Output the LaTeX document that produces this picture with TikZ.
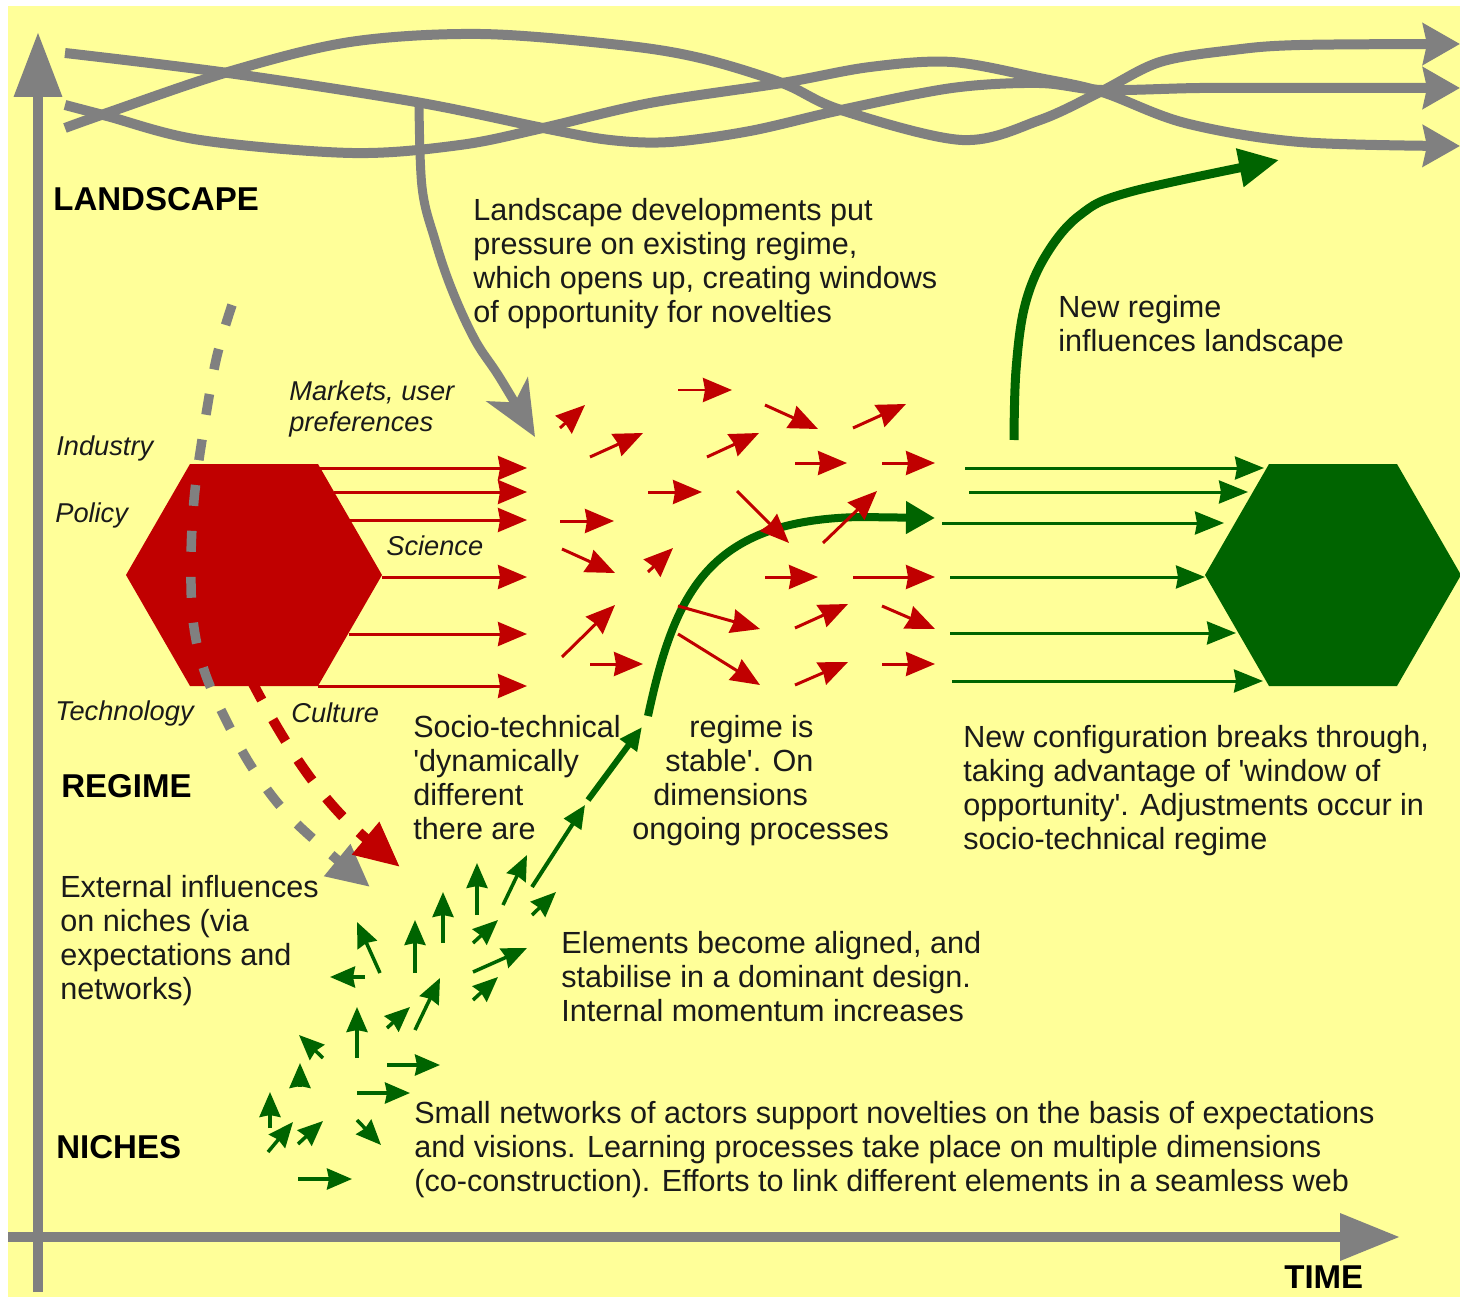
\documentclass[tikz,border=0pt]{standalone}
\usepackage{fontspec}
\setmainfont{Liberation Sans}
\usetikzlibrary{arrows.meta}

\definecolor{bgyellow}{HTML}{FFFF99}
\definecolor{lgray}{HTML}{808080}
\definecolor{regred}{HTML}{C00000}
\definecolor{reggreen}{HTML}{006400}
\definecolor{txt}{HTML}{1A1A1A}

\newcommand{\sq}{\textquotesingle}

\tikzset{
  axisline/.style={draw=lgray, line width=0.2cm},
  strand/.style={draw=lgray, line width=0.2cm, -{Stealth[length=0.74cm,width=0.82cm,inset=0.08cm]}},
  pressarr/.style={draw=lgray, line width=0.18cm, -{Stealth[length=1.1cm,width=0.95cm,inset=0.3cm]}},
  extdash/.style={draw=lgray, line width=0.19cm, dash pattern=on 0.42cm off 0.5cm, -{Triangle[length=0.85cm,width=0.78cm]}},
  regdash/.style={draw=regred, line width=0.2cm, dash pattern=on 0.5cm off 0.45cm, -{Triangle[length=0.9cm,width=0.8cm]}},
  redarr/.style={draw=regred, line width=0.06cm, -{Stealth[length=0.58cm,width=0.48cm,inset=0.04cm]}},
  feedarr/.style={draw=reggreen, line width=0.06cm, -{Stealth[length=0.58cm,width=0.46cm,inset=0.04cm]}},
  nichearr/.style={draw=reggreen, line width=0.07cm, -{Stealth[length=0.5cm,width=0.42cm,inset=0.04cm]}},
  growarr/.style={draw=reggreen, -{Triangle[length=0.46cm,width=0.4cm]}},
  txtbox/.style={font=\fontsize{17.4}{19.4}\selectfont, text=txt, align=left, anchor=north west, inner sep=0pt},
  dimname/.style={font=\fontsize{15.5}{17.6}\selectfont\itshape, text=txt, align=left, anchor=north west, inner sep=0pt},
  levelname/.style={font=\fontsize{18.8}{21}\selectfont\bfseries, text=black, anchor=north west, inner sep=0pt}
}

\begin{document}
\begin{tikzpicture}[x=0.02cm, y=-0.02cm]
\useasboundingbox (0,0) rectangle (1460,1297);
\fill[white] (0,0) rectangle (1460,1297);
\fill[bgyellow] (8,6) rectangle (1460,1297);

% axes
\coordinate (origin) at (38,1237);
\coordinate (ytop) at (38,32);
\coordinate (xend) at (1400,1237);
\draw[axisline, -{Triangle[length=1.3cm,width=0.92cm]}] (38,1292) -- (ytop);
\draw[axisline, -{Triangle[length=1.2cm,width=0.9cm]}] (8,1237) -- (xend);

% landscape strands
\draw[strand] plot[smooth, tension=0.55] coordinates {(65,53) (228,73) (416,102) (543,128) (610,140) (670,142) (750,131) (841,110) (952,88) (1039,83) (1102,90) (1200,88) (1300,88) (1460,88)};
\draw[strand] plot[smooth, tension=0.55] coordinates {(65,105) (107,116) (200,140) (352,153) (460,145) (543,128) (650,103) (782,83) (870,67) (952,62) (1039,78) (1102,92) (1185,123) (1300,142) (1460,146)};
\draw[strand] plot[smooth, tension=0.55] coordinates {(65,128) (107,113) (228,72) (350,42) (480,34) (620,45) (700,58) (782,83) (841,110) (962,140) (1040,120) (1102,91) (1160,62) (1233,50) (1300,45) (1460,44)};

% landscape pressure
\draw[pressarr] plot[smooth, tension=0.6] coordinates {(419,100) (422,187) (435,240) (452,290) (475,340) (500,378) (535,437)};

% old regime
\coordinate (oldreg) at (254,575);
\fill[regred] (126,575) -- (190,464) -- (318,464) -- (382,575) -- (318,686) -- (190,686) -- cycle;
\draw[redarr] (320,468) -- (527,468);
\draw[redarr] (334,492) -- (527,492);
\draw[redarr] (350,520) -- (527,520);
\draw[redarr] (382,577) -- (527,577);
\draw[redarr] (349,634) -- (527,634);
\draw[redarr] (318,686) -- (527,686);

% new regime
\coordinate (newreg) at (1333,575);
\fill[reggreen] (1205,575) -- (1269,464) -- (1397,464) -- (1461,575) -- (1397,686) -- (1269,686) -- cycle;
\draw[feedarr] (965,468) -- (1264,468);
\draw[feedarr] (969,492) -- (1248,492);
\draw[feedarr] (942,523) -- (1224,523);
\draw[feedarr] (950,577) -- (1205,577);
\draw[feedarr] (950,633) -- (1236,633);
\draw[feedarr] (952,681) -- (1263,681);

% breakthrough
\draw[growarr, line width=0.08cm] (532,887) -- (585,805);
\draw[growarr, line width=0.12cm] (588,800) -- (642,727);
\draw[reggreen, line width=0.16cm, -{Triangle[length=0.58cm,width=0.62cm]}] (648,716) .. controls (675,590) and (710,520) .. (860,517) -- (935,518);
\draw[reggreen, line width=0.18cm, -{Triangle[length=0.8cm,width=0.74cm]}] plot[smooth, tension=0.6] coordinates {(1014,440) (1016,370) (1025,305) (1046,255) (1080,215) (1130,192) (1279,160)};

% unstable regime
\draw[redarr] (678,390) -- (732,390);
\draw[redarr] (560,428) -- (585,405);
\draw[redarr] (590,457) -- (643,433);
\draw[redarr] (707,457) -- (759,433);
\draw[redarr] (765,405) -- (818,429);
\draw[redarr] (853,428) -- (906,404);
\draw[redarr] (795,463) -- (847,463);
\draw[redarr] (882,463) -- (935,463);
\draw[redarr] (648,492) -- (702,492);
\draw[redarr] (560,521) -- (614,521);
\draw[redarr] (737,491) -- (789,543);
\draw[redarr] (823,543) -- (877,491);
\draw[redarr] (562,549) -- (615,573);
\draw[redarr] (648,572) -- (673,548);
\draw[redarr] (765,577) -- (818,577);
\draw[redarr] (853,577) -- (935,577);
\draw[redarr] (678,606) -- (760,629);
\draw[redarr] (795,628) -- (848,604);
\draw[redarr] (882,606) -- (935,629);
\draw[redarr] (562,657) -- (615,605);
\draw[redarr] (590,664) -- (643,664);
\draw[redarr] (678,634) -- (760,685);
\draw[redarr] (795,685) -- (848,662);
\draw[redarr] (882,664) -- (935,664);

% niches
\draw[nichearr] (477,915) -- (477,863);
\draw[nichearr] (503,905) -- (527,855);
\draw[nichearr] (532,915) -- (556,892);
\draw[nichearr] (443,943) -- (443,892);
\draw[nichearr] (473,943) -- (498,920);
\draw[nichearr] (415,973) -- (415,920);
\draw[nichearr] (380,973) -- (357,922);
\draw[nichearr] (473,972) -- (527,948);
\draw[nichearr] (365,977) -- (330,977);
\draw[nichearr] (473,1000) -- (498,977);
\draw[nichearr] (415,1030) -- (440,978);
\draw[nichearr] (387,1028) -- (410,1007);
\draw[nichearr] (357,1058) -- (357,1007);
\draw[nichearr] (323,1058) -- (299,1035);
\draw[nichearr] (300,1087) -- (300,1063);
\draw[nichearr] (387,1065) -- (440,1065);
\draw[nichearr] (357,1093) -- (410,1093);
\draw[nichearr] (270,1128) -- (270,1092);
\draw[nichearr] (268,1152) -- (293,1122);
\draw[nichearr] (298,1144) -- (323,1121);
\draw[nichearr] (357,1120) -- (381,1145);
\draw[nichearr] (298,1179) -- (352,1179);

% external influences
\coordinate (extend) at (370,887);
\coordinate (regend) at (400,867);
\draw[extdash] plot[smooth, tension=0.6] coordinates {(232,305) (216,360) (202,440) (194,500) (191,560) (193,620) (204,670) (226,720) (255,772) (295,822) (extend)};
\draw[regdash] (250,678) .. controls (285,745) and (320,800) .. (regend);

% texts
\node[levelname] (landscape) at (53,187) {LANDSCAPE};
\node[levelname] (regime) at (61,774) {REGIME};
\node[levelname] (niches) at (56,1135) {NICHES};
\node[levelname] (time) at (1284,1265) {TIME};

\node[dimname] (markets) at (289,380) {Markets, user\\preferences};
\node[dimname] (industry) at (56,435) {Industry};
\node[dimname] (policy) at (55,502) {Policy};
\node[dimname] (science) at (386,535) {Science};
\node[dimname] (technology) at (55,700) {Technology};
\node[dimname] (culture) at (291,702) {Culture};

\node[txtbox] (pressure) at (473,198) {Landscape developments put\\pressure on existing regime,\\which opens up, creating windows\\of opportunity for novelties};
\node[txtbox] (feedback) at (1058,295) {New regime\\influences landscape};
\node[txtbox] (dynamic) at (413,715) {Socio-technical\\\sq dynamically\\different\\there are};
\node[txtbox] (stable) at (632,715) {\hspace*{1.14cm}regime is\\\hspace*{0.66cm}stable\sq. On\\\hspace*{0.42cm}dimensions\\ongoing processes};
\node[txtbox] (breakthrough) at (963,725) {New configuration breaks through,\\taking advantage of \sq window of\\opportunity\sq. Adjustments occur in\\socio-technical regime};
\node[txtbox] (external) at (60,875) {External influences\\on niches (via\\expectations and\\networks)};
\node[txtbox] (aligned) at (561,931) {Elements become aligned, and\\stabilise in a dominant design.\\Internal momentum increases};
\node[txtbox] (smallnet) at (414,1101) {Small networks of actors support novelties on the basis of expectations\\and visions. Learning processes take place on multiple dimensions\\(co-construction). Efforts to link different elements in a seamless web};
\end{tikzpicture}
\end{document}
